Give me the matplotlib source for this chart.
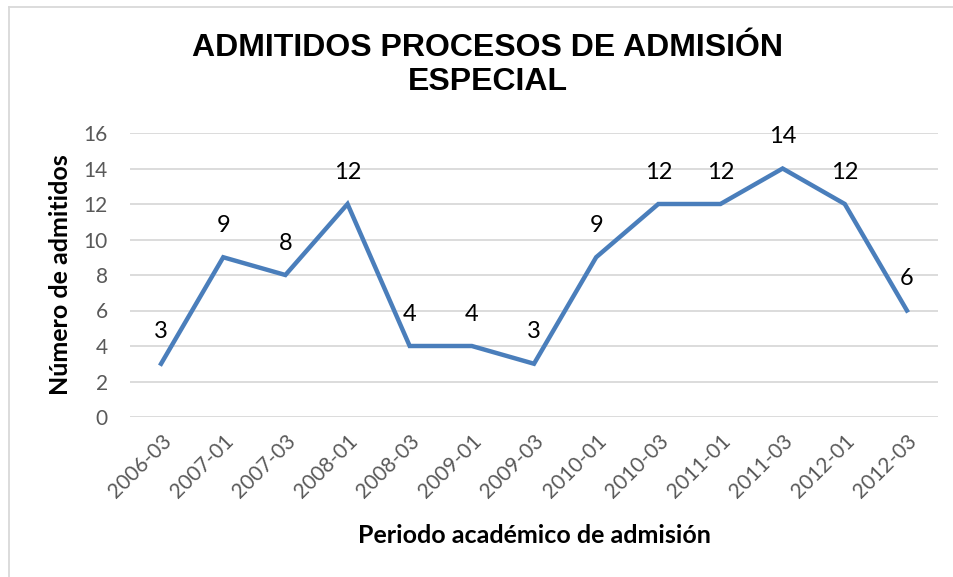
import numpy as np
import matplotlib
matplotlib.use("Agg")
import matplotlib.pyplot as plt
from matplotlib.lines import Line2D

periodos = ["2006-03", "2007-01", "2007-03", "2008-01", "2008-03", "2009-01", "2009-03",
            "2010-01", "2010-03", "2011-01", "2011-03", "2012-01", "2012-03"]
admitidos = [3, 9, 8, 12, 4, 4, 3, 9, 12, 12, 14, 12, 6]

titulo = "ADMITIDOS PROCESOS DE ADMISIÓN\nESPECIAL"
xlabel = "Periodo académico de admisión"
ylabel = "Número de admitidos"

plt.rcParams['font.family'] = ['Lato', 'DejaVu Sans']

fig = plt.figure(figsize=(9.54, 5.77), dpi=100)
ax = fig.add_axes([130/954, 160/577, 808/954, 284/577])

x = np.arange(len(periodos))
ax.plot(x, admitidos, color='#4A7EBB', linewidth=3.2, solid_joinstyle='miter')

for xi, v in zip(x, admitidos):
    ax.annotate(str(v), (xi, v), xytext=(0, 23), textcoords='offset points',
                ha='center', va='center', fontsize=17, color='black')

ax.set_xlim(-0.5, len(periodos) - 0.5)
ax.set_ylim(0, 16)
ax.set_yticks(range(0, 17, 2))
ax.set_xticks(x)
ax.set_xticklabels(periodos, rotation=45, ha='right', rotation_mode='anchor')
ax.tick_params(axis='both', length=0, labelsize=15, labelcolor='#595959')
ax.tick_params(axis='x', pad=10)
ax.tick_params(axis='y', pad=16)
ax.grid(axis='y', color='#D9D9D9', linewidth=1.3)
ax.set_axisbelow(True)
for s in ax.spines.values():
    s.set_visible(False)

ax.set_xlabel(xlabel, fontsize=18, fontweight='bold', labelpad=16)
ax.set_ylabel(ylabel, fontsize=18, fontweight='bold', labelpad=8)

fig.text(488/954, 1 - 65/577, titulo, ha='center', va='center', fontsize=23,
         fontweight='bold', family='Liberation Sans', linespacing=1.2)

# chart border (cut on the right and bottom)
fig.add_artist(Line2D([9/954, 9/954], [0, 1 - 7/577], color='#D9D9D9', linewidth=1.3))
fig.add_artist(Line2D([9/954, 1], [1 - 7/577, 1 - 7/577], color='#D9D9D9', linewidth=1.3))

fig.savefig("out.png", dpi=100)
